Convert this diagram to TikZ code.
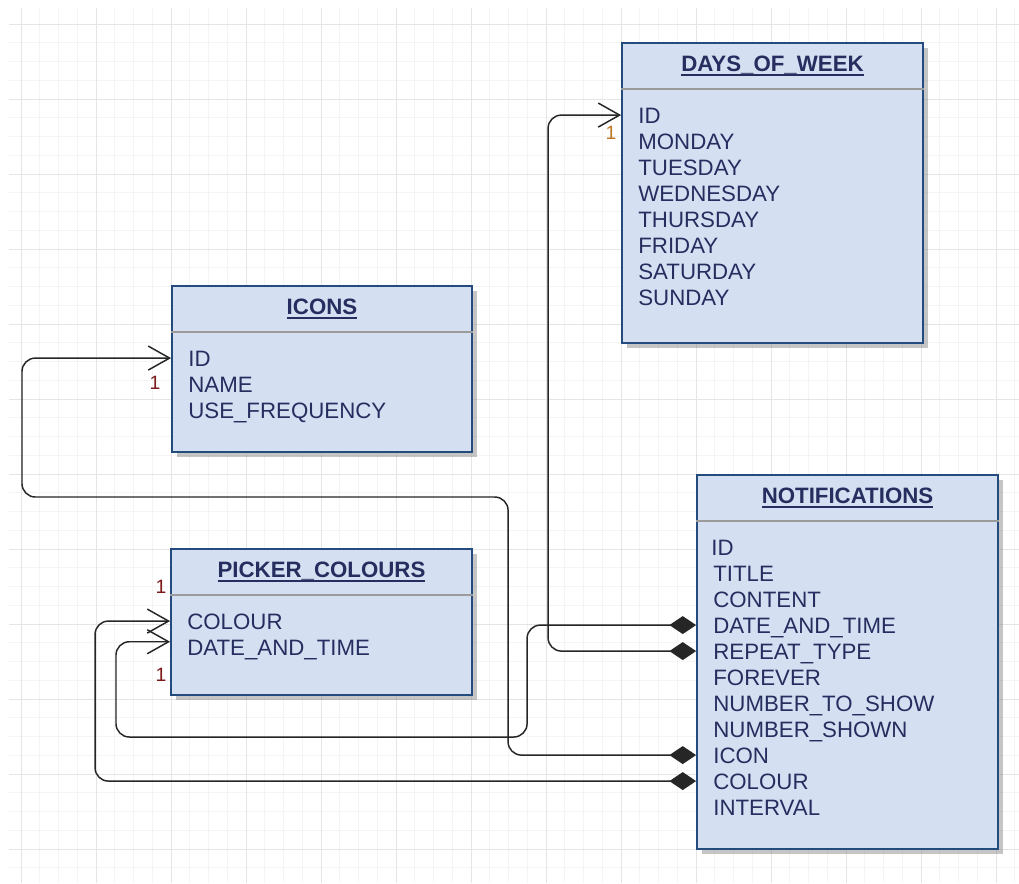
\documentclass[tikz,border=0pt]{standalone}
\usepackage{fontspec}
\setmainfont{Liberation Sans}
\usetikzlibrary{arrows.meta,positioning,fit,shadows}
\definecolor{tablefill}{RGB}{212,224,242}
\definecolor{tableline}{RGB}{35,75,125}
\definecolor{tabletext}{RGB}{38,45,95}
\definecolor{sepgrey}{RGB}{155,155,155}
\definecolor{onered}{RGB}{125,25,25}
\definecolor{oneorange}{RGB}{190,120,35}
\definecolor{gridfaint}{RGB}{244,244,244}
\definecolor{gridstrong}{RGB}{229,229,229}
\newcommand\fieldfont{\fontsize{16.7}{19.5}\selectfont}
\newcommand\onefont{\fontsize{14.5}{16}\selectfont}
\newsavebox\titlebox
\newcommand\ultitle[1]{\sbox\titlebox{#1}\rlap{\rule[-3.5pt]{\wd\titlebox}{1.3pt}}\usebox\titlebox}
\tikzset{
    tablebox/.style={draw=tableline, line width=1.4pt, fill=tablefill, inner sep=0pt,
        drop shadow={shadow xshift=3.5pt, shadow yshift=-4pt, opacity=0.45}},
    tabletitle/.style={anchor=base, inner sep=0pt, font=\fieldfont\bfseries, text=tabletext},
    fieldrow/.style={anchor=base west, inner sep=0pt, text height=12pt, text depth=0pt,
        font=\fieldfont, text=tabletext},
    seprule/.style={draw=sepgrey, line width=1.2pt},
    fkline/.style={draw=black!85, line width=1.1pt, rounded corners=10pt,
        {Diamond[length=20pt,width=13.5pt]}-{Straight Barb[length=16pt,width=18pt]}},
    onelabel/.style={font=\onefont, text=onered, inner sep=0pt},
    gridminor/.style={draw=gridfaint, line width=0.75pt},
    gridmajor/.style={draw=gridstrong, line width=0.75pt}
}

\begin{document}
\begin{tikzpicture}[x=0.75pt, y=-0.75pt]
\useasboundingbox (0,0) rectangle (1019,883);
\fill[white] (0,0) rectangle (1019,883);
% background grid
\foreach \gx in {21,39.75,...,1019} \draw[gridminor] (\gx,8) -- (\gx,883);
\foreach \gy in {24,42.75,...,883} \draw[gridminor] (9,\gy) -- (1019,\gy);
\foreach \gx in {21,96,...,1019} \draw[gridmajor] (\gx,8) -- (\gx,883);
\foreach \gy in {24,99,...,883} \draw[gridmajor] (9,\gy) -- (1019,\gy);

% DAYS_OF_WEEK
\node[tablebox, fit={(622,43) (923,343)}] (days) {};
\node[tabletitle] (days-title) at ([yshift=-21.75pt]days.north) {\ultitle{DAYS\_OF\_WEEK}};
\draw[seprule] ([yshift=-35.25pt]days.north west) -- ([yshift=-35.25pt]days.north east);
\node[fieldrow] (days-id) at ([xshift=12.75pt,yshift=-60.75pt]days.north west) {ID};
\node[fieldrow] (days-mon) at ([yshift=-19.5pt]days-id.base west) {MONDAY};
\node[fieldrow] (days-tue) at ([yshift=-19.5pt]days-mon.base west) {TUESDAY};
\node[fieldrow] (days-wed) at ([yshift=-19.5pt]days-tue.base west) {WEDNESDAY};
\node[fieldrow] (days-thu) at ([yshift=-19.5pt]days-wed.base west) {THURSDAY};
\node[fieldrow] (days-fri) at ([yshift=-19.5pt]days-thu.base west) {FRIDAY};
\node[fieldrow] (days-sat) at ([yshift=-19.5pt]days-fri.base west) {SATURDAY};
\node[fieldrow] (days-sun) at ([yshift=-19.5pt]days-sat.base west) {SUNDAY};

% ICONS
\node[tablebox, fit={(172,286) (472,452)}] (icons) {};
\node[tabletitle] (icons-title) at ([yshift=-21.75pt]icons.north) {\ultitle{ICONS}};
\draw[seprule] ([yshift=-35.25pt]icons.north west) -- ([yshift=-35.25pt]icons.north east);
\node[fieldrow] (icons-id) at ([xshift=12.75pt,yshift=-60.75pt]icons.north west) {ID};
\node[fieldrow] (icons-name) at ([yshift=-19.5pt]icons-id.base west) {NAME};
\node[fieldrow] (icons-freq) at ([yshift=-19.5pt]icons-name.base west) {USE\_FREQUENCY};

% PICKER_COLOURS
\node[tablebox, fit={(171,549) (472,695)}] (pick) {};
\node[tabletitle] (pick-title) at ([yshift=-21.75pt]pick.north) {\ultitle{PICKER\_COLOURS}};
\draw[seprule] ([yshift=-35.25pt]pick.north west) -- ([yshift=-35.25pt]pick.north east);
\node[fieldrow] (pick-colour) at ([xshift=12.75pt,yshift=-60.75pt]pick.north west) {COLOUR};
\node[fieldrow] (pick-date) at ([yshift=-19.5pt]pick-colour.base west) {DATE\_AND\_TIME};

% NOTIFICATIONS
\node[tablebox, fit={(697,475) (998,849)}] (notif) {};
\node[tabletitle] (notif-title) at ([yshift=-21.75pt]notif.north) {\ultitle{NOTIFICATIONS}};
\draw[seprule] ([yshift=-35.25pt]notif.north west) -- ([yshift=-35.25pt]notif.north east);
\node[fieldrow] (notif-id) at ([xshift=11.25pt,yshift=-60.75pt]notif.north west) {ID};
\node[fieldrow] (notif-title-f) at ([xshift=1.5pt,yshift=-19.5pt]notif-id.base west) {TITLE};
\node[fieldrow] (notif-content) at ([yshift=-19.5pt]notif-title-f.base west) {CONTENT};
\node[fieldrow] (notif-date) at ([yshift=-19.5pt]notif-content.base west) {DATE\_AND\_TIME};
\node[fieldrow] (notif-repeat) at ([yshift=-19.5pt]notif-date.base west) {REPEAT\_TYPE};
\node[fieldrow] (notif-forever) at ([yshift=-19.5pt]notif-repeat.base west) {FOREVER};
\node[fieldrow] (notif-toshow) at ([yshift=-19.5pt]notif-forever.base west) {NUMBER\_TO\_SHOW};
\node[fieldrow] (notif-shown) at ([yshift=-19.5pt]notif-toshow.base west) {NUMBER\_SHOWN};
\node[fieldrow] (notif-icon) at ([yshift=-19.5pt]notif-shown.base west) {ICON};
\node[fieldrow] (notif-colour) at ([yshift=-19.5pt]notif-icon.base west) {COLOUR};
\node[fieldrow] (notif-interval) at ([yshift=-19.5pt]notif-colour.base west) {INTERVAL};

% relations
\draw[fkline] (notif.west |- notif-repeat) -- ++(-148,0) |- (days.west |- days-id);
\draw[fkline] (notif.west |- notif-icon) -- ++(-188,0) |- (22,497) |- (icons.west |- icons-id);
\draw[fkline] (notif.west |- notif-colour) -- ++(-601,0) |- (pick.west |- pick-colour);
\draw[fkline] (notif.west |- notif-date) -- ++(-169,0) |- (116,737) |- ([yshift=4pt]pick.west |- pick-date);

\node[onelabel, text=oneorange] (days-one) at (611,133) {1};
\node[onelabel] (icons-one) at (155,383) {1};
\node[onelabel] (pick-one-a) at (161,587) {1};
\node[onelabel] (pick-one-b) at (161,675) {1};
\end{tikzpicture}
\end{document}
